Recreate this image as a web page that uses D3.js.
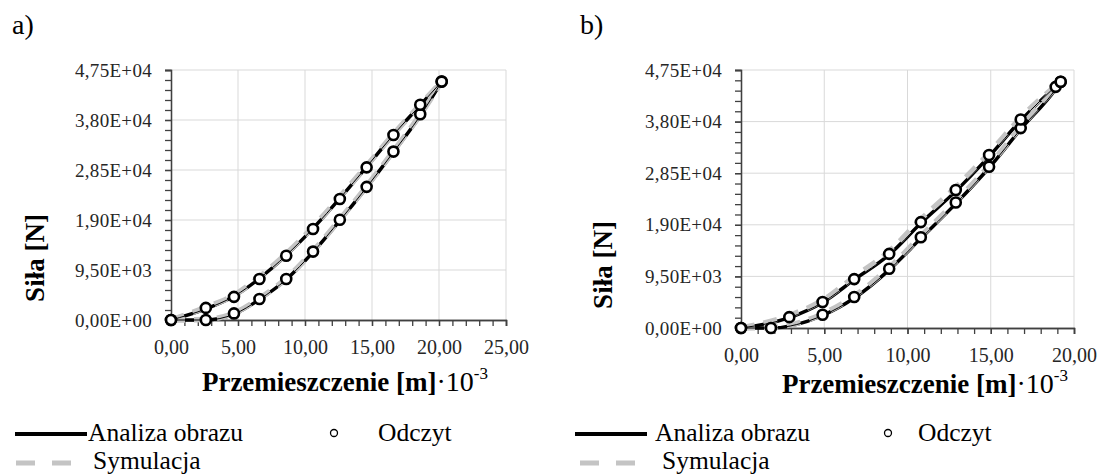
<!DOCTYPE html>
<html>
<head>
<meta charset="utf-8">
<script src="https://cdn.jsdelivr.net/npm/d3@7"></script>
<style>
  body { margin: 0; background: #fff; }
  svg { display: block; }
</style>
</head>
<body>
<div id="chart"></div>
<script>
// tick values
var yTicks = [0, 9500, 19000, 28500, 38000, 47500];
var xTicksA = [0, 5, 10, 15, 20, 25];
var xTicksB = [0, 5, 10, 15, 20];

// panel a) - displacement points [mm] for loading / unloading
var xA = [0, 2.6, 4.7, 6.6, 8.6, 10.6, 12.6, 14.6, 16.6, 18.6, 20.2];
var odczytA_load = [0, 0, 1250, 4000, 7800, 13000, 19050, 25300, 32000, 39100, 45300];
var odczytA_unload = [0, 2300, 4400, 7800, 12200, 17300, 23000, 29000, 35150, 40900, 45300];
var analizaA_load = [0, 0, 1100, 3900, 7700, 12900, 18900, 25200, 31900, 38800, 45300];
var analizaA_unload = [0, 2100, 4500, 7900, 12300, 17400, 23100, 29100, 35200, 40800, 45300];
var symulacjaA_load = [0, 100, 1300, 4100, 7900, 13100, 19100, 25400, 32100, 39000, 45300];
var symulacjaA_unload = [0, 2400, 4700, 8200, 12600, 17700, 23400, 29300, 35300, 40900, 45300];

// panel b)
var xB_load = [0, 1.8, 4.9, 6.8, 8.9, 10.8, 12.9, 14.9, 16.8, 18.9, 19.2];
var xB_unload = [0, 2.9, 4.9, 6.8, 8.9, 10.8, 12.9, 14.9, 16.8, 19.2];
var odczytB_load = [0, 0, 2450, 5700, 10900, 16700, 23100, 29700, 36800, 44400, 45350];
var odczytB_unload = [0, 2000, 4800, 9000, 13650, 19500, 25400, 31850, 38400, 45350];
var analizaB_load = [0, 0, 2300, 5500, 10700, 16500, 22900, 29500, 36600, 44000, 45350];
var analizaB_unload = [0, 1900, 4700, 8900, 13500, 19300, 25200, 31600, 38200, 45350];
var symulacjaB_load = [0, 100, 2600, 5900, 11100, 16900, 23300, 29900, 37000, 44300, 45350];
var symulacjaB_unload = [0, 2300, 5100, 9400, 14100, 20000, 25900, 32200, 38700, 45350];

var legendLabels = ["Analiza obrazu", "Odczyt", "Symulacja"];

var svgWidth = 1102;
var svgHeight = 474;

var serif = "'Liberation Serif', serif";

var svg = d3.select("#chart")
  .append("svg")
  .attr("width", svgWidth)
  .attr("height", svgHeight);

function zip(xs, ys) {
  return xs.map(function(x, i) { return [x, ys[i]]; });
}

function fmtY(d) {
  var p = d.toExponential(2).split("e");
  var e = +p[1];
  return p[0].replace(".", ",") + "E" + (e < 0 ? "-" : "+") + String(Math.abs(e)).padStart(2, "0");
}

function fmtX(d) {
  return d3.format(".2f")(d).replace(".", ",");
}

var panels = [
  {
    tag: "a)", tagX: 12,
    left: 171, top: 70, width: 335, height: 250,
    xMax: 25, xTicks: xTicksA,
    branches: [
      { x: xA, odczyt: odczytA_load, analiza: analizaA_load, symulacja: symulacjaA_load },
      { x: xA, odczyt: odczytA_unload, analiza: analizaA_unload, symulacja: symulacjaA_unload }
    ],
    yTitleX: 44, yTitleY: 258,
    xTitleX: 488, xTitleY: 391,
    legend: { lineX: 15, textX: 88, dotX: 334, odczytX: 378, dashX: 16, symX: 93 }
  },
  {
    tag: "b)", tagX: 580,
    left: 741, top: 70, width: 333, height: 258,
    xMax: 20, xTicks: xTicksB,
    branches: [
      { x: xB_load, odczyt: odczytB_load, analiza: analizaB_load, symulacja: symulacjaB_load },
      { x: xB_unload, odczyt: odczytB_unload, analiza: analizaB_unload, symulacja: symulacjaB_unload }
    ],
    yTitleX: 612, yTitleY: 265,
    xTitleX: 1068, xTitleY: 393,
    legend: { lineX: 575, textX: 655, dotX: 888, odczytX: 918, dashX: 580, symX: 662 }
  }
];

panels.forEach(function(p) {

  var xScale = d3.scaleLinear().domain([0, p.xMax]).range([0, p.width]);
  var yScale = d3.scaleLinear().domain([0, 47500]).range([p.height, 0]);

  var minorX = d3.range(0, p.xMax + 0.001, 1);
  var minorY = d3.range(0, 47500 + 1, 1900);

  // panel letter
  svg.append("text")
    .attr("x", p.tagX)
    .attr("y", 34)
    .attr("font-family", serif)
    .attr("font-size", "28px")
    .attr("fill", "#000")
    .text(p.tag);

  var g = svg.append("g")
    .attr("transform", `translate(${p.left}, ${p.top})`);

  // grid
  g.append("g")
    .selectAll("line")
    .data(yTicks.filter(function(d) { return d > 0; }))
    .enter()
    .append("line")
    .attr("x1", 0)
    .attr("x2", p.width)
    .attr("y1", d => yScale(d))
    .attr("y2", d => yScale(d))
    .attr("stroke", "#d9d9d9")
    .attr("stroke-width", 1);

  g.append("g")
    .selectAll("line")
    .data(p.xTicks.filter(function(d) { return d > 0; }))
    .enter()
    .append("line")
    .attr("x1", d => xScale(d))
    .attr("x2", d => xScale(d))
    .attr("y1", 0)
    .attr("y2", p.height)
    .attr("stroke", "#d9d9d9")
    .attr("stroke-width", 1);

  // axes - minor ticks first, then labelled ones
  var yMinor = g.append("g")
    .call(d3.axisLeft(yScale).tickValues(minorY).tickSize(6).tickFormat(""));
  var yAxis = g.append("g")
    .call(d3.axisLeft(yScale).tickValues(yTicks).tickSize(6).tickPadding(13).tickFormat(fmtY));

  var xMinor = g.append("g")
    .attr("transform", `translate(0, ${p.height})`)
    .call(d3.axisBottom(xScale).tickValues(minorX).tickSize(6).tickFormat(""));
  var xAxis = g.append("g")
    .attr("transform", `translate(0, ${p.height})`)
    .call(d3.axisBottom(xScale).tickValues(p.xTicks).tickSize(6).tickPadding(14).tickFormat(fmtX));

  [yMinor, yAxis, xMinor, xAxis].forEach(function(ax) {
    ax.selectAll("path").attr("stroke", "#404040").attr("stroke-width", 1.3);
    ax.selectAll("line").attr("stroke", "#404040").attr("stroke-width", 1.3);
  });
  yAxis.selectAll("text")
    .attr("font-family", serif)
    .attr("font-size", "19px")
    .attr("letter-spacing", "0.3px")
    .attr("fill", "#262626");
  xAxis.selectAll("text")
    .attr("font-family", serif)
    .attr("font-size", "20px")
    .attr("fill", "#262626");

  // curves
  var line = d3.line()
    .x(d => xScale(d[0]))
    .y(d => yScale(d[1]))
    .curve(d3.curveMonotoneX);

  p.branches.forEach(function(b) {
    g.append("path")
      .attr("d", line(zip(b.x, b.analiza)))
      .attr("fill", "none")
      .attr("stroke", "#000")
      .attr("stroke-width", 3.5);
  });
  p.branches.forEach(function(b) {
    g.append("path")
      .attr("d", line(zip(b.x, b.symulacja)))
      .attr("fill", "none")
      .attr("stroke", "#c4c4c4")
      .attr("stroke-width", 5.5)
      .attr("stroke-dasharray", "14,9");
  });
  p.branches.forEach(function(b) {
    g.append("path")
      .attr("d", line(zip(b.x, b.analiza)))
      .attr("fill", "none")
      .attr("stroke", "#000")
      .attr("stroke-width", 1);
  });

  // reading markers
  p.branches.forEach(function(b) {
    g.append("g")
      .selectAll("circle")
      .data(zip(b.x, b.odczyt))
      .enter()
      .append("circle")
      .attr("cx", d => xScale(d[0]))
      .attr("cy", d => yScale(d[1]))
      .attr("r", 5)
      .attr("fill", "#fff")
      .attr("stroke", "#000")
      .attr("stroke-width", 2.6);
  });

  // axis titles
  svg.append("text")
    .attr("transform", `translate(${p.yTitleX}, ${p.yTitleY}) rotate(-90)`)
    .attr("text-anchor", "middle")
    .attr("font-family", serif)
    .attr("font-size", "27px")
    .attr("font-weight", "bold")
    .attr("fill", "#000")
    .text("Siła [N]");

  var xt = svg.append("text")
    .attr("x", p.xTitleX)
    .attr("y", p.xTitleY)
    .attr("text-anchor", "end")
    .attr("font-family", serif)
    .attr("fill", "#000");
  xt.append("tspan").attr("font-size", "27px").attr("font-weight", "bold").text("Przemieszczenie [m]");
  xt.append("tspan").attr("font-size", "28px").text("·10");
  xt.append("tspan").attr("font-size", "17px").attr("dy", -12).text("-3");

  // legend
  var L = p.legend;
  svg.append("line")
    .attr("x1", L.lineX).attr("x2", L.lineX + 72)
    .attr("y1", 434).attr("y2", 434)
    .attr("stroke", "#000").attr("stroke-width", 4);
  svg.append("text")
    .attr("x", L.textX).attr("y", 441)
    .attr("font-family", serif).attr("font-size", "25.5px").attr("fill", "#000")
    .text(legendLabels[0]);
  svg.append("circle")
    .attr("cx", L.dotX).attr("cy", 433).attr("r", 3.5)
    .attr("fill", "#fff").attr("stroke", "#000").attr("stroke-width", 1.3);
  svg.append("text")
    .attr("x", L.odczytX).attr("y", 441)
    .attr("font-family", serif).attr("font-size", "25.5px").attr("fill", "#000")
    .text(legendLabels[1]);
  svg.append("line")
    .attr("x1", L.dashX).attr("x2", L.dashX + 56)
    .attr("y1", 463).attr("y2", 463)
    .attr("stroke", "#c4c4c4").attr("stroke-width", 5)
    .attr("stroke-dasharray", "19,17");
  svg.append("text")
    .attr("x", L.symX).attr("y", 469)
    .attr("font-family", serif).attr("font-size", "25.5px").attr("fill", "#000")
    .text(legendLabels[2]);
});
</script>
</body>
</html>
